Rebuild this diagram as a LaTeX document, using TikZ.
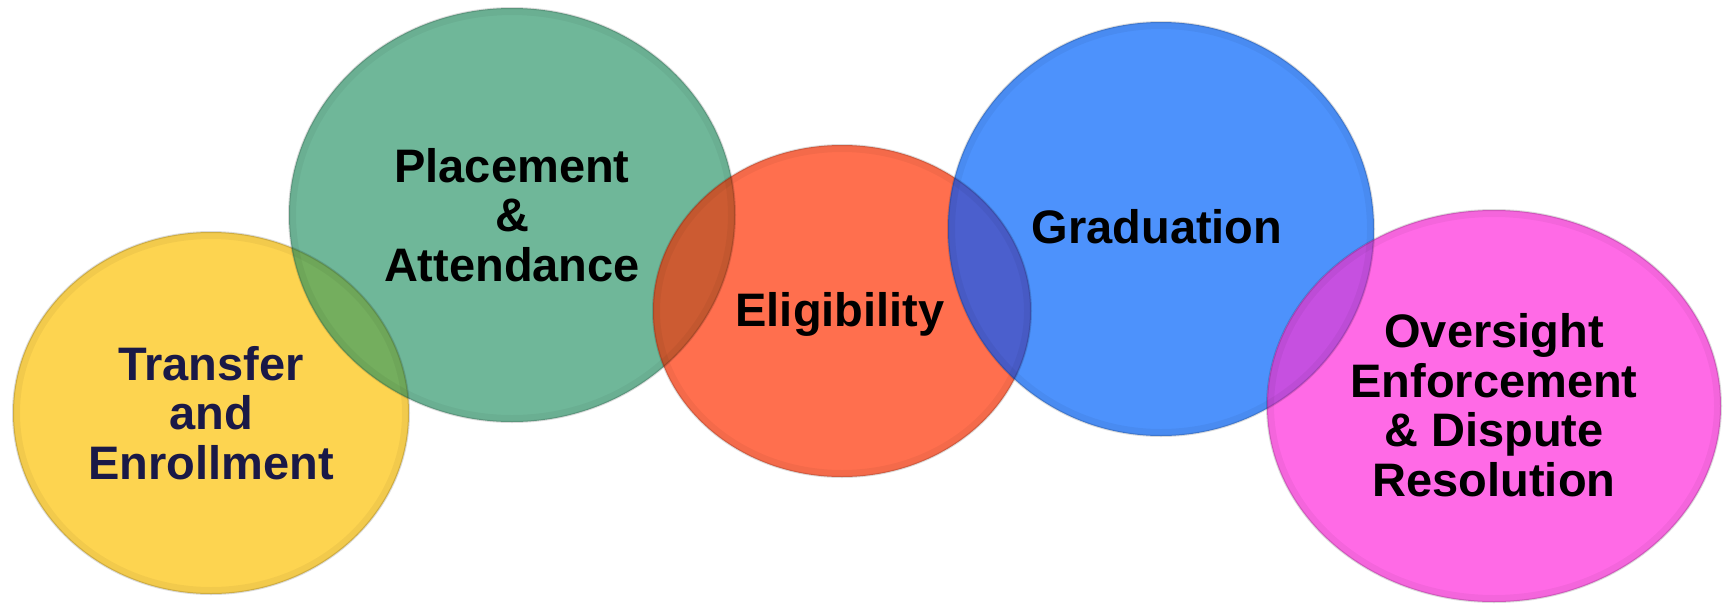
\documentclass[tikz,border=0pt]{standalone}
\usepackage{fontspec}
\setmainfont{Liberation Sans}
\definecolor{cyel}{HTML}{FDD450}
\definecolor{cgrn}{HTML}{6FB799}
\definecolor{corg}{HTML}{FF6F4E}
\definecolor{cblu}{HTML}{4D92FC}
\definecolor{cmag}{HTML}{FF6AE6}
\definecolor{cYG}{HTML}{74AE5E}
\definecolor{cGO}{HTML}{CC5B32}
\definecolor{cOB}{HTML}{4B5FCD}
\definecolor{cBM}{HTML}{C650E0}
\definecolor{navy}{HTML}{1A1947}
\begin{document}
\begin{tikzpicture}[x=1pt,y=-1pt]
\tikzset{
  lbl/.style={font=\bfseries\fontsize{47}{49.5}\selectfont, align=center, text=black, inner sep=0pt},
  rim/.style={draw=black, draw opacity=0.14, line width=2pt},
  glow/.style={draw=black, draw opacity=0.045, line width=14pt}
}
\useasboundingbox (0,0) rectangle (1725,603);
\def\EY{(211,413) ellipse [x radius=198pt, y radius=181pt]}
\def\EG{(512,215) ellipse [x radius=223pt, y radius=207pt]}
\def\EO{(842,311) ellipse [x radius=189pt, y radius=166pt]}
\def\EB{(1161,229) ellipse [x radius=213pt, y radius=207pt]}
\def\EM{(1494,406) ellipse [x radius=227pt, y radius=196pt]}
% fills
\fill[cyel] \EY;
\fill[cgrn] \EG;
\fill[corg] \EO;
\fill[cblu] \EB;
\fill[cmag] \EM;
% overlaps
\begin{scope}\clip \EY; \fill[cYG] \EG; \end{scope}
\begin{scope}\clip \EG; \fill[cGO] \EO; \end{scope}
\begin{scope}\clip \EO; \fill[cOB] \EB; \end{scope}
\begin{scope}\clip \EB; \fill[cBM] \EM; \end{scope}
% inner glow and rims
\foreach \E in {\EY,\EG,\EO,\EB,\EM}{
  \begin{scope}\clip \E; \draw[glow] \E; \end{scope}
  \draw[rim] \E;
}
% labels
\node[lbl, text=navy] (tTE) at (211,413) {Transfer\\and\\Enrollment};
\node[lbl] (tPA) at (512,215) {Placement\\\&\\Attendance};
\node[lbl, anchor=base] (tEl) at (840,326) {Eligibility};
\node[lbl, anchor=base] (tGr) at (1157,243) {Graduation};
\node[lbl] (tOv) at (1494,405) {Oversight\\Enforcement\\\& Dispute\\Resolution};
\end{tikzpicture}
\end{document}
